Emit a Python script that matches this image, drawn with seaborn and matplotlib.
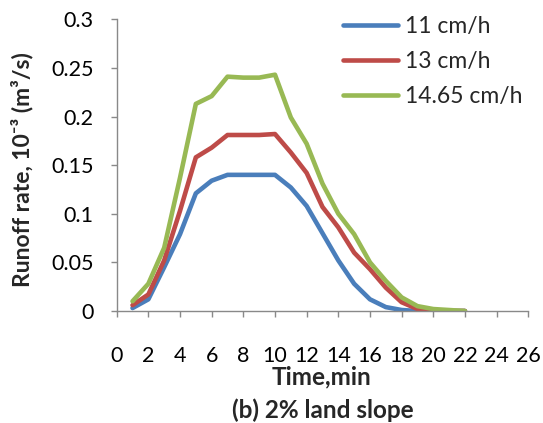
import matplotlib
matplotlib.use("Agg")
import matplotlib.pyplot as plt
import seaborn as sns
import pandas as pd

time_min = list(range(1, 23))
rate_11 = [0.003, 0.012, 0.045, 0.079, 0.121, 0.134, 0.140, 0.140, 0.140, 0.140, 0.127,
           0.108, 0.080, 0.052, 0.028, 0.012, 0.004, 0.001, 0.0, 0.0, 0.0, 0.0]
rate_13 = [0.006, 0.017, 0.052, 0.103, 0.158, 0.168, 0.181, 0.181, 0.181, 0.182, 0.163,
           0.142, 0.107, 0.086, 0.060, 0.043, 0.024, 0.009, 0.002, 0.0, 0.0, 0.0]
rate_1465 = [0.010, 0.028, 0.065, 0.137, 0.213, 0.221, 0.241, 0.240, 0.240, 0.243, 0.199,
             0.172, 0.131, 0.100, 0.079, 0.050, 0.031, 0.014, 0.005, 0.002, 0.001, 0.0]
series_labels = ["11 cm/h", "13 cm/h", "14.65 cm/h"]
x_ticks = list(range(0, 27, 2))
y_ticks = [0, 0.05, 0.1, 0.15, 0.2, 0.25, 0.3]
y_tick_labels = ["0", "0.05", "0.1", "0.15", "0.2", "0.25", "0.3"]

df = pd.DataFrame({
    "time": time_min * 3,
    "rate": rate_11 + rate_13 + rate_1465,
    "series": [series_labels[0]] * len(time_min) + [series_labels[1]] * len(time_min)
              + [series_labels[2]] * len(time_min),
})

sns.set_theme(style="white")
plt.rcParams["font.family"] = ["Lato", "DejaVu Sans"]

fig = plt.figure(figsize=(5.43, 4.23), dpi=100)
ax = fig.add_axes([0.2149, 0.2648, 0.9729 - 0.2149, 0.9544 - 0.2648])

palette = {series_labels[0]: "#4A7EBB", series_labels[1]: "#BE4B48", series_labels[2]: "#98B954"}
sns.lineplot(data=df, x="time", y="rate", hue="series", palette=palette, ax=ax,
             linewidth=3.3, legend=True)
for ln in ax.get_lines():
    ln.set_solid_capstyle("round")
    ln.set_solid_joinstyle("round")

ax.set_xlim(0, 26)
ax.set_ylim(0, 0.3)
ax.set_xticks(x_ticks)
ax.set_yticks(y_ticks)
ax.set_yticklabels(y_tick_labels)

for s in ["top", "right"]:
    ax.spines[s].set_visible(False)
for s in ["left", "bottom"]:
    ax.spines[s].set_color("#898989")
    ax.spines[s].set_linewidth(1.0)

ax.tick_params(axis="both", which="major", direction="out", length=4.5, width=1.0,
               color="#898989", labelsize=15.5, labelcolor="black")
ax.tick_params(axis="x", pad=21)
ax.tick_params(axis="y", pad=12)
ax.tick_params(bottom=True, left=True)

ax.set_xlabel("")
ax.set_ylabel("")
fig.text(22 / 543, 1 - 170 / 423, "Runoff rate, 10\u207b\u00b3 (m\u00b3/s)", fontsize=16.5,
         fontweight="bold", rotation=90, ha="center", va="center")
fig.text(322 / 543, 1 - 377 / 423, "Time,min", fontsize=17.5, fontweight="bold",
         ha="center", va="center")
fig.text(323 / 543, 1 - 410 / 423, "(b) 2% land slope", fontsize=17.5, fontweight="bold",
         ha="center", va="center")

leg = ax.legend(frameon=False, loc="upper left", bbox_to_anchor=(343 / 543, 1 - 16 / 423),
                bbox_transform=fig.transFigure, fontsize=16.5, handlelength=2.4,
                handletextpad=0.3, labelspacing=0.62, borderpad=0, borderaxespad=0)
for h in leg.get_lines():
    h.set_linewidth(3.3)
    h.set_solid_capstyle("round")

fig.savefig("out.png", dpi=100)
